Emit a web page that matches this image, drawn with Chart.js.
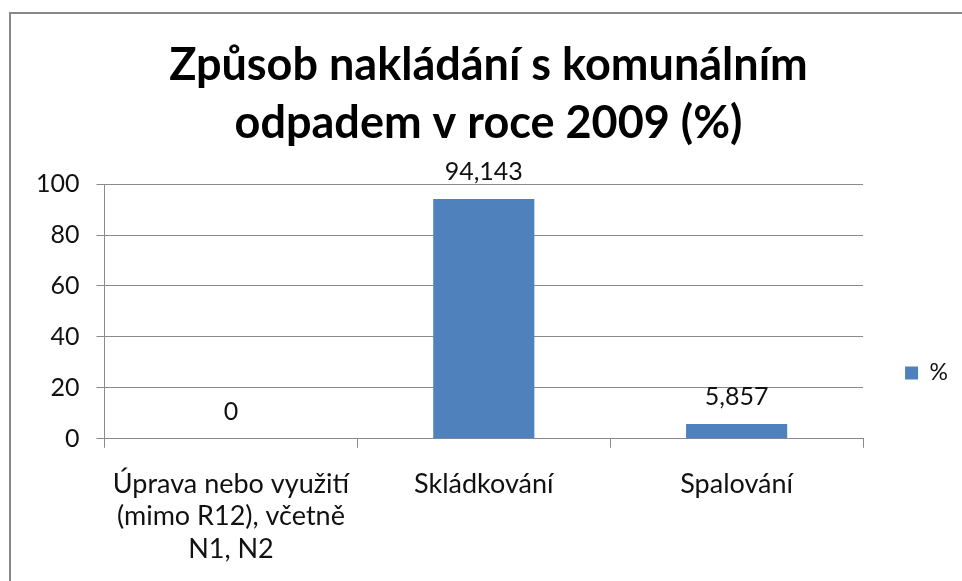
<!DOCTYPE html>
<html lang="cs">
    <head>
        <meta charset="utf-8" />
        <title>Způsob nakládání s komunálním odpadem v roce 2009 (%)</title>
        <style>
            body { margin: 0; background: #fff; overflow: hidden; }
            #ramecek { position: absolute; left: 9px; top: 12px; width: 1000px; height: 1000px; border: 2px solid #878787; }
            #graf { position: absolute; left: 0; top: 0; }
        </style>
    </head>
    <body>
        <div id="ramecek"></div>
        <canvas id="graf" width="962" height="581"></canvas>

        <script src="https://cdn.jsdelivr.net/npm/chart.js@4.4.1/dist/chart.umd.min.js"></script>

        <script>
            // data z obrázku
            const kategorie = [
                ["Úprava nebo využití", "(mimo R12), včetně", "N1, N2"],
                "Skládkování",
                "Spalování",
            ];
            const hodnoty = [0, 94.143, 5.857];
            const nazevRady = "%";
            const nadpis = ["Způsob nakládání s komunálním", "odpadem v roce 2009 (%)"];
            const osaY = { min: 0, max: 100, krok: 20 };

            const pismo = "Lato";
            const seda = "#8a8a8a";

            // popisky hodnot nad sloupci (česká desetinná čárka)
            const popiskyHodnot = {
                id: "popiskyHodnot",
                afterDatasetsDraw(chart) {
                    const ctx = chart.ctx;
                    const meta = chart.getDatasetMeta(0);
                    ctx.save();
                    ctx.font = "25px " + pismo;
                    ctx.fillStyle = "#111";
                    ctx.textAlign = "center";
                    ctx.textBaseline = "alphabetic";
                    meta.data.forEach(function (bar, i) {
                        const text = String(chart.data.datasets[0].data[i]).replace(".", ",");
                        ctx.fillText(text, bar.x, bar.y - 19);
                    });
                    ctx.restore();
                },
            };

            new Chart(document.getElementById("graf").getContext("2d"), {
                type: "bar",
                data: {
                    labels: kategorie,
                    datasets: [
                        {
                            label: nazevRady,
                            data: hodnoty,
                            backgroundColor: "#4f81bd",
                            borderWidth: 0,
                            barPercentage: 0.4,
                            categoryPercentage: 1,
                        },
                    ],
                },
                options: {
                    responsive: false,
                    animation: false,
                    layout: { padding: { left: 19, right: 4, top: 0, bottom: -4 } },
                    plugins: {
                        title: {
                            display: true,
                            text: nadpis,
                            color: "#000",
                            font: { family: pismo, size: 45, weight: "bold", lineHeight: 1.29 },
                            padding: { top: 36, bottom: 32 },
                        },
                        legend: {
                            position: "right",
                            align: "center",
                            // prázdný nadpis legendy jen posouvá položku dolů
                            title: { display: true, text: " ", font: { size: 20 }, padding: { top: 137, bottom: 0 } },
                            labels: {
                                boxWidth: 13,
                                boxHeight: 13,
                                padding: 42,
                                color: "#111",
                                font: { family: pismo, size: 23 },
                            },
                        },
                        tooltip: { enabled: false },
                    },
                    scales: {
                        x: {
                            grid: { drawOnChartArea: false, offset: true, tickLength: 9, color: seda },
                            border: { color: seda },
                            ticks: {
                                color: "#111",
                                padding: 20,
                                maxRotation: 0,
                                font: { family: pismo, size: 27, lineHeight: 1.2 },
                            },
                        },
                        y: {
                            min: osaY.min,
                            max: osaY.max,
                            grid: { color: seda, tickLength: 8 },
                            border: { color: seda },
                            ticks: {
                                stepSize: osaY.krok,
                                color: "#111",
                                padding: 17,
                                font: { family: pismo, size: 25 },
                            },
                        },
                    },
                },
                plugins: [popiskyHodnot],
            });
        </script>
    </body>
</html>
